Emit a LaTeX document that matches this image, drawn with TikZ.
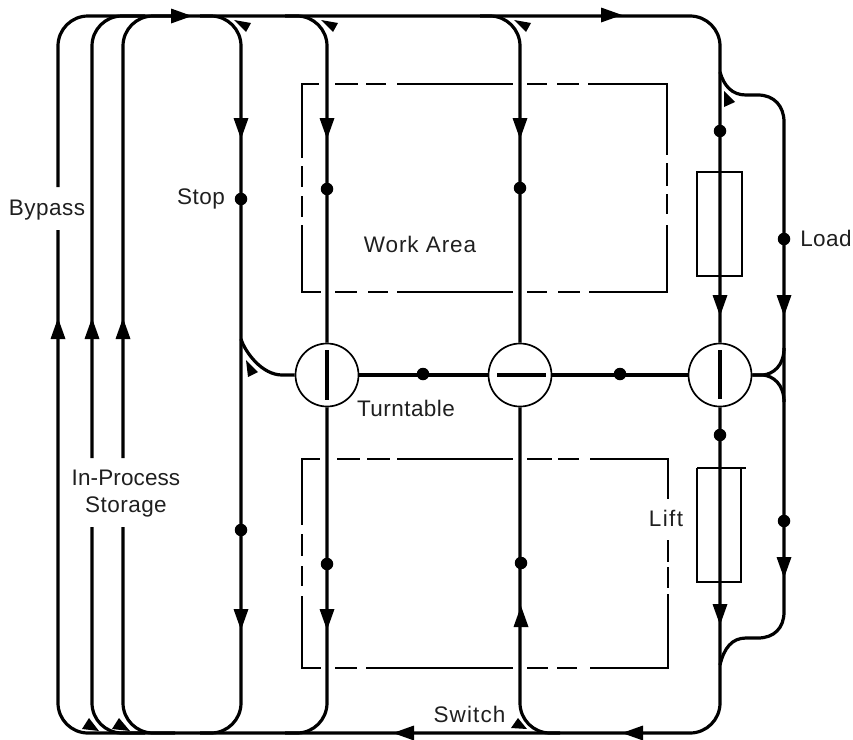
\documentclass[tikz,border=0pt]{standalone}
\usepackage{fontspec}
\setmainfont[LetterSpace=2]{Liberation Sans}
\newcommand{\ahd}[2]{\fill (#1-7.5,#2-21) -- (#1+7.5,#2-21) -- (#1,#2) -- cycle;}
\newcommand{\ahu}[2]{\fill (#1-7.5,#2+21) -- (#1+7.5,#2+21) -- (#1,#2) -- cycle;}
\newcommand{\ahr}[2]{\fill (#1-21,#2-7.5) -- (#1-21,#2+7.5) -- (#1,#2) -- cycle;}
\newcommand{\ahl}[2]{\fill (#1+21,#2-7.5) -- (#1+21,#2+7.5) -- (#1,#2) -- cycle;}
\tikzset{
  x=1pt,y=-1pt,
  track/.style={line width=3.2pt,line join=round},
  cornertrack/.style={track,rounded corners=30pt},
  arealine/.style={line width=1.9pt},
  device/.style={line width=1.9pt},
  turntable/.style={circle,draw,line width=1.7pt,fill=white,minimum size=63pt,inner sep=0pt},
  stopdot/.style={circle,fill=black,minimum size=12.5pt,inner sep=0pt},
  lbl/.style={font=\fontsize{22.5}{25}\selectfont,text=black!88,anchor=base,inner sep=0pt},
  swmark/.style={fill=black}
}
\begin{document}
\begin{tikzpicture}
\useasboundingbox (0,0) rectangle (853,739);
% coordinates
\coordinate (tr) at (720,16);
\coordinate (br) at (720,733);
\coordinate (bl) at (58,733);
\coordinate (tl) at (58,16);
\coordinate (bypu) at (58,187);
\coordinate (bypl) at (58,230);
% work area, dashed by hand
\foreach \a/\b in {302/319,335/358,366/386,397/513,527/547,557/579,588/667}{
  \draw[arealine] (\a,84) -- (\b,84);}
\foreach \a/\b in {302/321,335/357,368/388,397/513,527/547,558/580,589/667}{
  \draw[arealine] (\a,292) -- (\b,292);}
\foreach \a/\b in {83/158,166/187,196/217,225/293}{
  \draw[arealine] (302,\a) -- (302,\b);}
\foreach \a/\b in {83/155,163/186,194/214,225/293}{
  \draw[arealine] (667,\a) -- (667,\b);}
% lower area
\foreach \a/\b in {302/320,337/360,367/390,397/513,527/552,558/579,590/668}{
  \draw[arealine] (\a,459) -- (\b,459);}
\foreach \a/\b in {302/321,335/357,366/513,527/548,557/577,590/668}{
  \draw[arealine] (\a,668) -- (\b,668);}
\foreach \a/\b in {458/525,534/556,566/586,596/669}{
  \draw[arealine] (302,\a) -- (302,\b);}
\foreach \a/\b in {458/499,540/562,567/588,594/669}{
  \draw[arealine] (668,\a) -- (668,\b);}
% devices
\node[draw,device,minimum width=45pt,minimum height=104pt,inner sep=0pt] (loadbox) at (719.5,224) {};
\draw[device] (697,468) -- (697,582) -- (741,582) -- (741,468);
\coordinate (lifttl) at (697,468);
\coordinate (lifttr) at (746,468);
\draw[device] (lifttl) -- (lifttr);
% turntables
\node[turntable] (t1) at (327,375) {};
\node[turntable] (t2) at (520,375) {};
\node[turntable] (t3) at (720,375) {};
% outer loop, broken by the Bypass label
\draw[cornertrack] (t3.south) -- (br) -- (bl) -- (bypl);
\draw[cornertrack] (bypu) -- (tl) -- (tr) -- (t3.north);
% in-process storage
\coordinate (s1t) at (92,16); \coordinate (s1b) at (92,733);
\coordinate (s2t) at (123,16); \coordinate (s2b) at (123,733);
\coordinate (s1u) at (92,458); \coordinate (s1l) at (92,527);
\coordinate (s2u) at (123,458); \coordinate (s2l) at (123,527);
\draw[cornertrack] (145,733) -- (s1b) -- (s1l);
\draw[cornertrack] (s1u) -- (s1t) -- (145,16);
\draw[cornertrack] (175,733) -- (s2b) -- (s2l);
\draw[cornertrack] (s2u) -- (s2t) -- (175,16);
% stop line
\coordinate (a1t) at (241,16); \coordinate (a1b) at (241,733);
\draw[cornertrack] (200,16) -- (a1t) -- (a1b) -- (200,733);
% second line
\coordinate (a2t) at (327,16); \coordinate (a2b) at (327,733);
\draw[cornertrack] (285,16) -- (a2t) -- (t1.north);
\draw[cornertrack] (t1.south) -- (a2b) -- (285,733);
% third line
\coordinate (a3t) at (520,16); \coordinate (a3b) at (520,733);
\draw[cornertrack] (480,16) -- (a3t) -- (t2.north);
\draw[cornertrack] (t2.south) -- (a3b) -- (560,733);
% branch from stop line
\coordinate (brs) at (241,339);
\draw[track] (brs) .. controls (245,352) and (262,375) .. (282,375) -- (t1.west);
% turntable link
\draw[track] (t1.east) -- (t2.west);
\draw[track] (t2.east) -- (t3.west);
% load loop
\coordinate (la) at (720,72);
\coordinate (lb) at (720,665);
\draw[track] (la) .. controls (724,86) and (732,95) .. (746,95) -- (758,95)
   .. controls (774,95) and (784,106) .. (784,122) -- (784,612)
   .. controls (784,628) and (774,638) .. (758,638) -- (746,638)
   .. controls (732,638) and (724,648) .. (lb);
\draw[track] (t3.east) -- (763,375) .. controls (773,374) and (784,366) .. (784,348);
\draw[track] (t3.east) -- (763,375) .. controls (773,376) and (784,384) .. (784,402);
% bars
\draw[track] (327,350) -- (327,400);
\draw[track] (497,375) -- (546,375);
\draw[track] (720,350) -- (720,399);
% stop dots
\foreach \n/\p in {d1/{241,199},d2/{327,189},d3/{520,188},d4/{720,131},d5/{784,239},
  d6/{241,530},d7/{327,564},d8/{521,563},d9/{720,435},d10/{784,521},d11/{423,374},d12/{620,374}}{
  \node[stopdot] (\n) at (\p) {};}
% arrowheads
\ahr{192}{16} \ahr{622}{15}
\ahl{393}{733} \ahl{622}{733}
\ahd{241}{139} \ahd{327}{139} \ahd{520}{139}
\ahd{720}{316} \ahd{784}{316}
\ahd{241}{630} \ahd{327}{630} \ahu{521}{606}
\ahd{720}{625} \ahd{784}{578}
\ahu{58}{318} \ahu{92}{318} \ahu{123}{318}
% switch markers
\fill[swmark] (234,20) -- (251,23) -- (246,32) -- cycle;
\fill[swmark] (321,20) -- (338,23) -- (333,32) -- cycle;
\fill[swmark] (514,20) -- (531,23) -- (526,32) -- cycle;
\fill[swmark] (724,91) -- (724,107) -- (735,102) -- cycle;
\fill[swmark] (246,360) -- (248,377) -- (258,372) -- cycle;
\fill[swmark] (82,729) -- (99,731) -- (89,718) -- cycle;
\fill[swmark] (112,729) -- (130,731) -- (119,718) -- cycle;
\fill[swmark] (511,728) -- (527,729) -- (518,718) -- cycle;
% labels
\node[lbl] (bypass) at (47,215) {Bypass};
\node[lbl] (stoplbl) at (201,204) {Stop};
\node[lbl] (loadlbl) at (826,246) {Load};
\node[lbl] (work) at (420,252) {\addfontfeatures{LetterSpace=4}Work Area};
\node[lbl] (turnlbl) at (406,416) {Turntable};
\node[lbl] (inproc) at (126,485) {\addfontfeatures{LetterSpace=0.5}In-Process};
\node[lbl] (stor) at (126,512) {Storage};
\node[lbl] (lift) at (666,526) {\addfontfeatures{LetterSpace=6}Lift};
\node[lbl] (switch) at (469.5,722) {\addfontfeatures{LetterSpace=5}Switch};
\end{tikzpicture}
\end{document}
